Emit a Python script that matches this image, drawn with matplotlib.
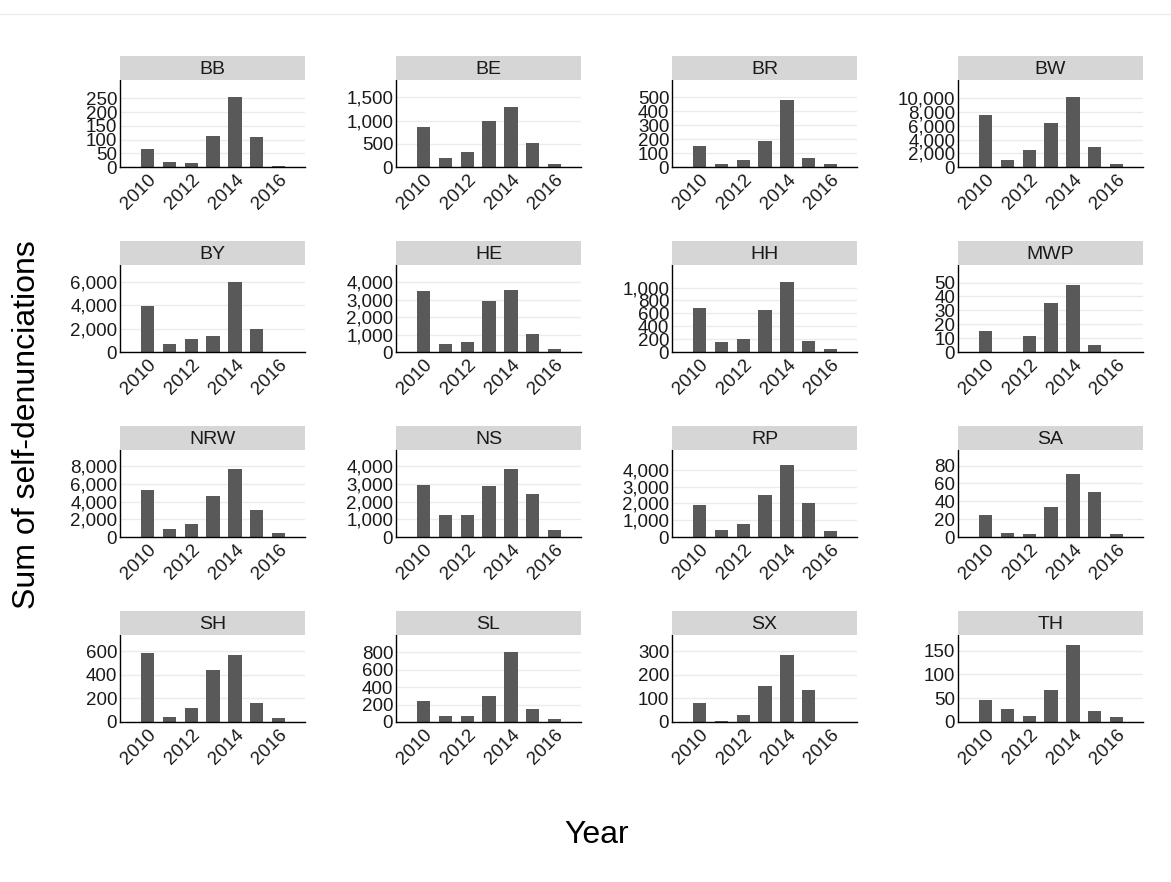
import matplotlib
matplotlib.use("Agg")
import numpy as np
import matplotlib.pyplot as plt
from matplotlib.ticker import FuncFormatter
from matplotlib.lines import Line2D

plt.rcParams["font.family"] = ["Liberation Sans", "DejaVu Sans"]

years = [2010, 2011, 2012, 2013, 2014, 2015, 2016]
states = ["BB", "BE", "BR", "BW",
          "BY", "HE", "HH", "MWP",
          "NRW", "NS", "RP", "SA",
          "SH", "SL", "SX", "TH"]

# self-denunciations per state and year
BB = [67, 20, 15, 114, 256, 109, 5]
BE = [866, 194, 313, 985, 1291, 507, 60]
BR = [149, 20, 47, 187, 478, 65, 20]
BW = [7580, 960, 2475, 6465, 10250, 2880, 400]
BY = [3910, 706, 1150, 1380, 6030, 1970, 10]
HE = [3490, 470, 550, 2900, 3570, 1040, 196]
HH = [686, 149, 207, 654, 1085, 170, 53]
MWP = [15, 0, 11.6, 35.5, 48.5, 5, 0]
NRW = [5330, 900, 1490, 4590, 7690, 3100, 470]
NS = [2960, 1255, 1255, 2880, 3840, 2450, 392]
RP = [1876, 412, 784, 2474, 4268, 2020, 330]
SA = [24.9, 4.7, 3, 33.8, 70.3, 50, 3]
SH = [590, 45, 115, 445, 570, 160, 35]
SL = [240, 70, 70, 300, 800, 145, 35]
SX = [80, 5, 30, 155, 285, 135, 0]
TH = [47, 27, 13, 68, 162, 24, 10]
values = [BB, BE, BR, BW, BY, HE, HH, MWP, NRW, NS, RP, SA, SH, SL, SX, TH]

# y ticks (step, last labelled tick) and upper limit for each panel
tick_step = [50, 500, 100, 2000, 2000, 1000, 200, 10,
             2000, 1000, 1000, 20, 200, 200, 100, 50]
tick_max = [250, 1500, 500, 10000, 6000, 4000, 1000, 50,
            8000, 4000, 4000, 80, 600, 800, 300, 150]
y_top = [317, 1873, 624, 12680, 7470, 4980, 1351, 62.6,
         9840, 4920, 5175, 97.5, 740, 1000, 370, 183]

W, H = 1171, 882
fig = plt.figure(figsize=(W / 100, H / 100), dpi=100)
fig.patch.set_facecolor("white")

col_left = [120, 396, 672, 958]
panel_w = 185
panel_h = 87
strip_h = 24
row_bottom = [167, 352, 537, 722]

comma = FuncFormatter(lambda v, p: f"{v:,.0f}")

for i, name in enumerate(states):
    r, c = divmod(i, 4)
    x0 = col_left[c]
    yb = row_bottom[r]
    ax = fig.add_axes([x0 / W, 1 - yb / H, panel_w / W, panel_h / H])
    ax.bar(years, values[i], width=0.6, color="#595959", zorder=2)
    ax.set_xlim(2008.75, 2017.2)
    ax.set_ylim(0, y_top[i])
    ax.set_yticks(np.arange(0, tick_max[i] + 1, tick_step[i]))
    ax.yaxis.set_major_formatter(comma)
    ax.set_xticks([2010, 2012, 2014, 2016])
    ax.set_xticklabels(["2010", "2012", "2014", "2016"], rotation=45,
                       ha="right", va="top", rotation_mode="anchor")
    ax.grid(axis="y", color="#EBEBEB", linewidth=1, zorder=0)
    ax.tick_params(length=0, labelsize=13.5, colors="#1a1a1a", pad=2)
    ax.tick_params(axis="x", pad=3)
    for s in ["top", "right"]:
        ax.spines[s].set_visible(False)
    for s in ["left", "bottom"]:
        ax.spines[s].set_color("black")
        ax.spines[s].set_linewidth(1)

    # facet strip
    sax = fig.add_axes([x0 / W, 1 - (yb - panel_h) / H, panel_w / W, strip_h / H])
    sax.set_facecolor("#D6D6D6")
    sax.set_xticks([])
    sax.set_yticks([])
    for s in sax.spines.values():
        s.set_visible(False)
    sax.text(0.5, 0.45, name, ha="center", va="center", fontsize=14,
             color="#1a1a1a", transform=sax.transAxes)

fig.text(597 / W, 1 - 835 / H, "Year", ha="center", va="center", fontsize=23)
fig.text(27 / W, 1 - 425 / H, "Sum of self-denunciations", ha="center",
         va="center", rotation=90, fontsize=23)

fig.add_artist(Line2D([0, 1], [1 - 14 / H, 1 - 14 / H], color="#EEEEEE",
                      linewidth=1, transform=fig.transFigure))

fig.savefig("out.png", dpi=100, facecolor="white")
